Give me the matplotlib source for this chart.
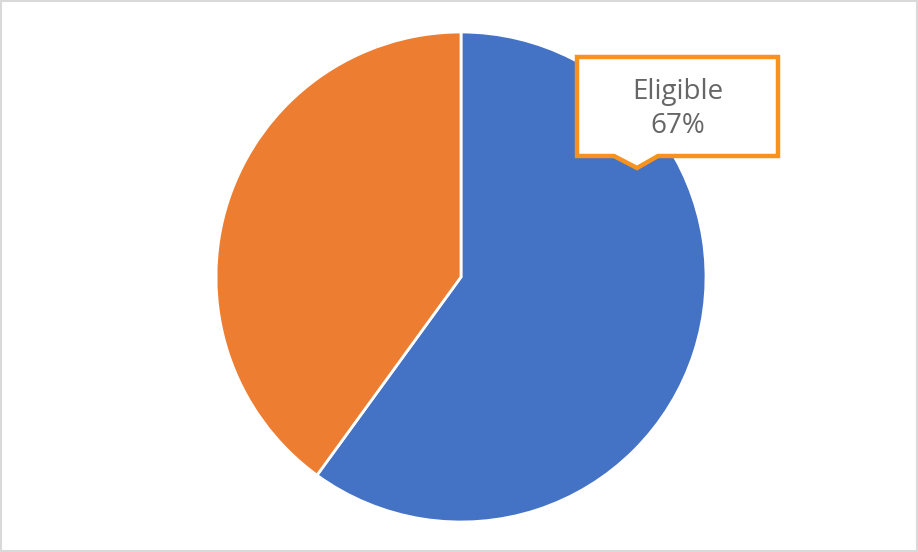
import matplotlib.pyplot as plt
from matplotlib.patches import Polygon, Rectangle

# data
categories = ['Eligible', 'Not eligible']
values = [60, 40]
colors = ['#4472C4', '#ED7D31']
callout_text = 'Eligible\n67%'

W, H = 918, 552
fig = plt.figure(figsize=(W / 100, H / 100), dpi=100)
ax = fig.add_axes([0, 0, 1, 1])
ax.set_xlim(0, W)
ax.set_ylim(0, H)
ax.set_aspect('equal')
ax.axis('off')

# pie in pixel coords (y flipped)
ax.pie(values, colors=colors, startangle=90, counterclock=False,
       center=(461, H - 277), radius=245,
       wedgeprops=dict(edgecolor='white', linewidth=2))
ax.set_xlim(0, W)
ax.set_ylim(0, H)

# callout box with pointer
x0, x1 = 577, 778
ytop, ybot = H - 57, H - 156
pts = [(x0, ytop), (x1, ytop), (x1, ybot), (658, ybot), (637, H - 168),
       (614, ybot), (x0, ybot)]
ax.add_patch(Polygon(pts, closed=True, facecolor='white', edgecolor='#F7921E',
                     linewidth=3.2, joinstyle='miter', zorder=5))
ax.text(678, H - 109, callout_text, ha='center', va='center', fontsize=20,
        color='#666666', family='Open Sans', linespacing=1.25, zorder=6)

# outer frame
ax.add_patch(Rectangle((1, 1), W - 2, H - 2, fill=False, edgecolor='#D9D9D9',
                       linewidth=1.5, zorder=7))

fig.savefig('out.png', dpi=100)
